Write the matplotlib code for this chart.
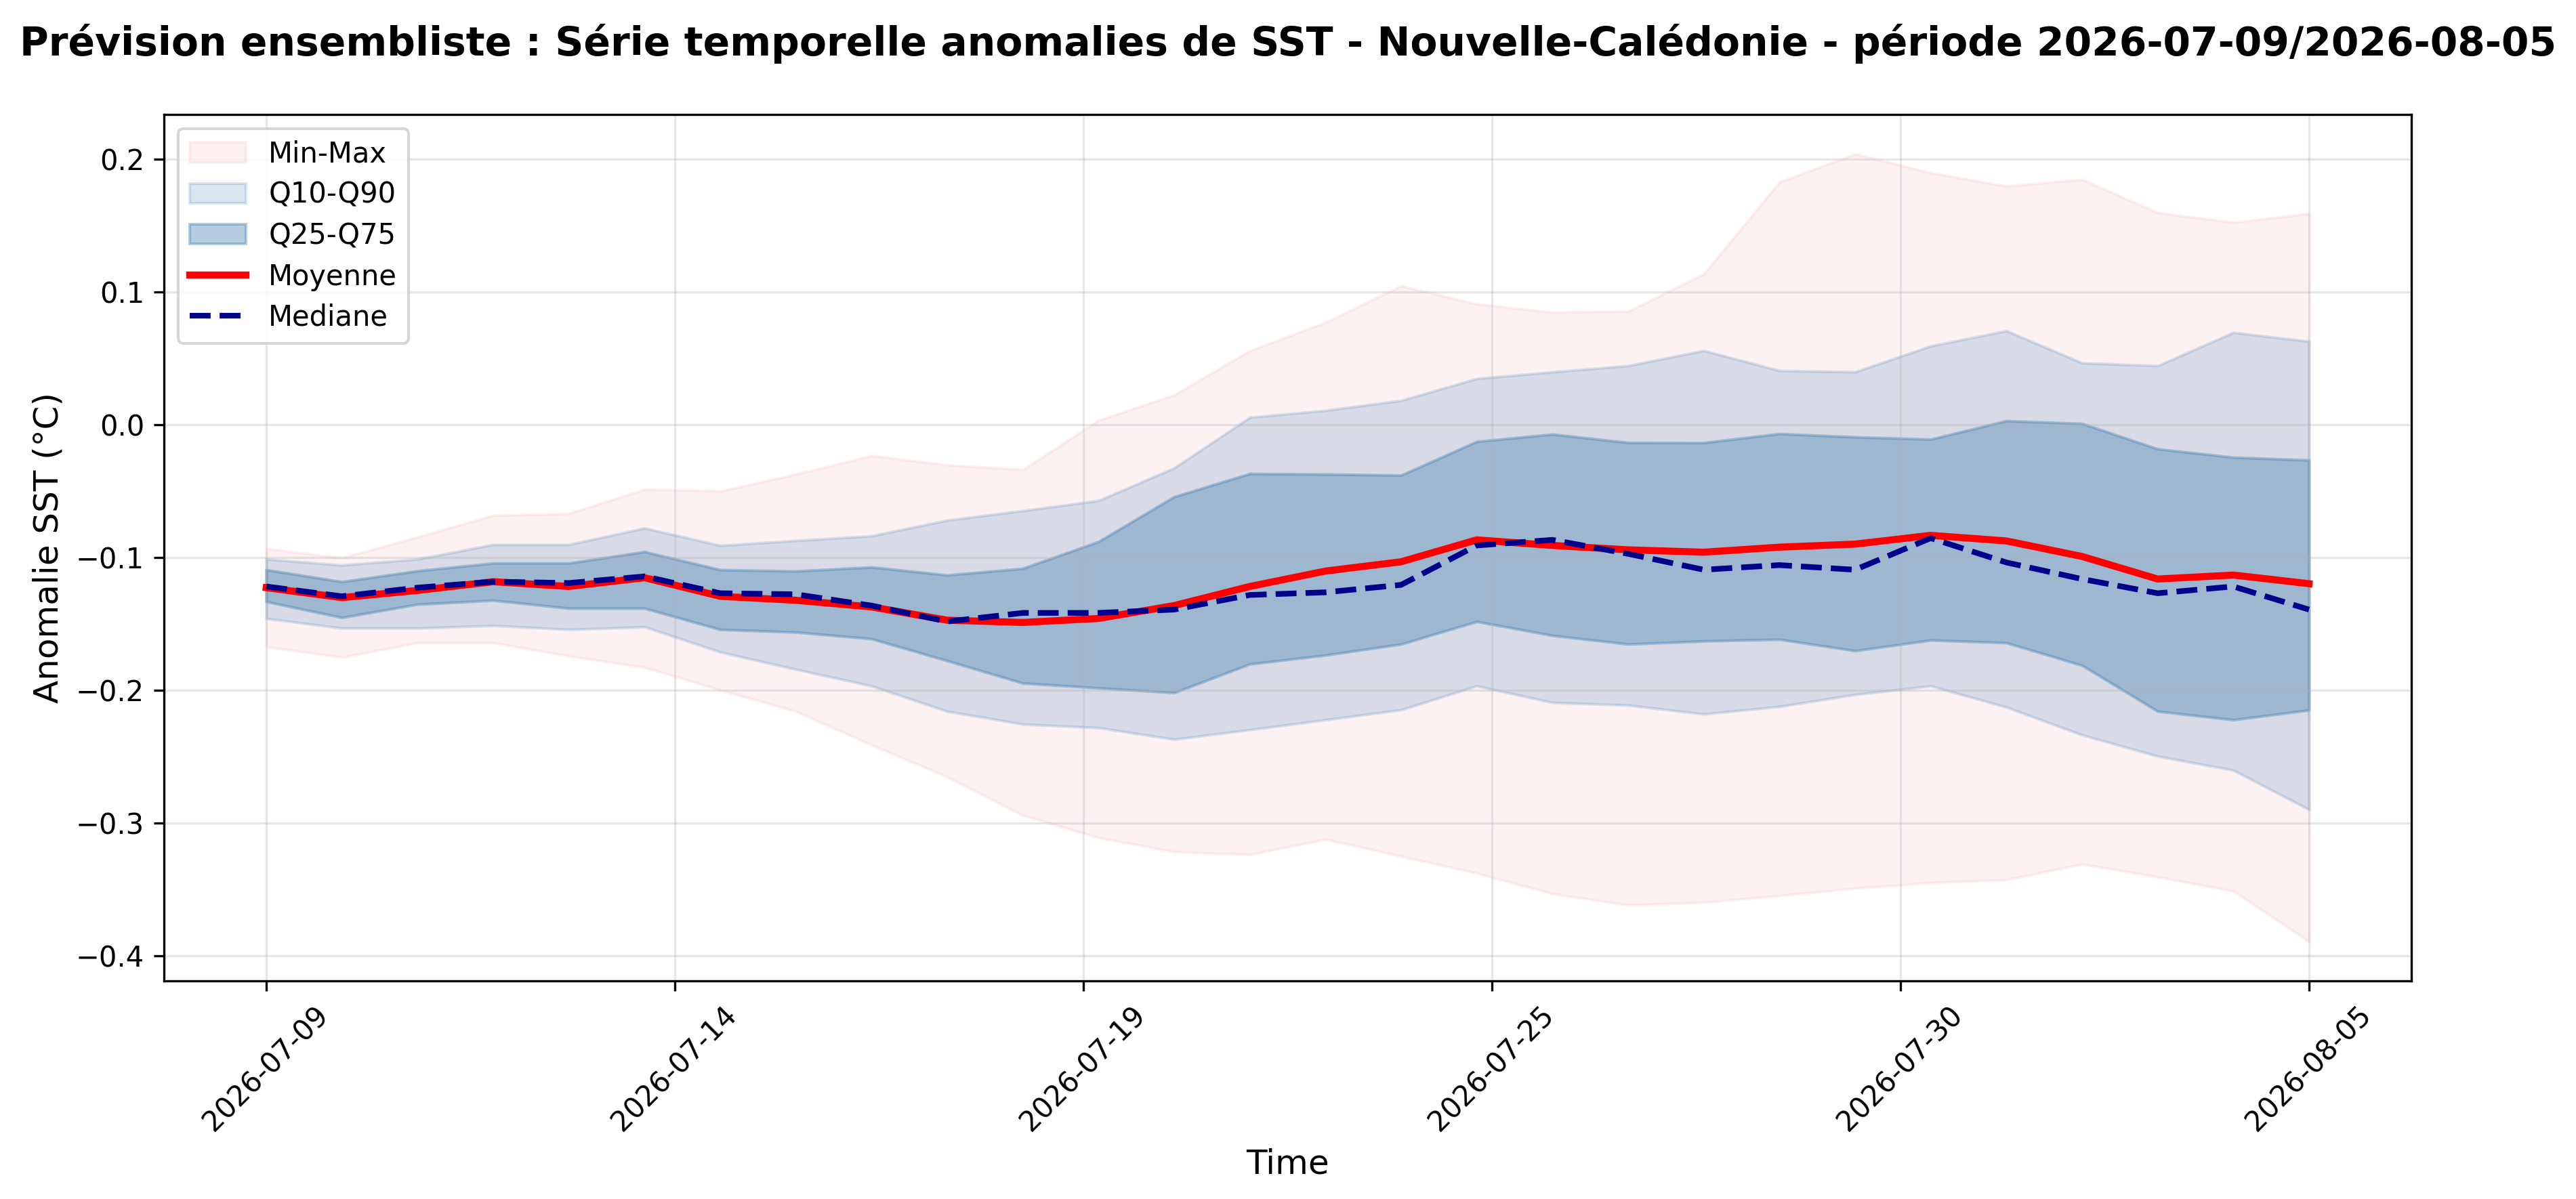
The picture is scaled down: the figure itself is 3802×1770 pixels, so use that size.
import numpy as np
import pandas as pd
import matplotlib
matplotlib.use("Agg")
import matplotlib.pyplot as plt

# dates of the forecast (daily)
dates = pd.date_range("2026-07-09", "2026-08-05", freq="D").strftime("%Y-%m-%d").tolist()

# ensemble statistics (anomalie SST, °C)
moyenne = [-0.1225, -0.130, -0.1246, -0.118, -0.1216, -0.115, -0.129, -0.132, -0.137, -0.147,
           -0.1487, -0.1457, -0.136, -0.1216, -0.110, -0.103, -0.0865, -0.0907, -0.094, -0.0958,
           -0.092, -0.0897, -0.0831, -0.0873, -0.099, -0.116, -0.113, -0.1195]
mediane = [-0.1216, -0.129, -0.1225, -0.118, -0.119, -0.114, -0.1267, -0.1275, -0.136, -0.148,
           -0.1415, -0.1415, -0.139, -0.128, -0.126, -0.1204, -0.0907, -0.0865, -0.097, -0.109,
           -0.1055, -0.109, -0.0852, -0.1035, -0.116, -0.1267, -0.1216, -0.139]
q25 = [-0.133, -0.145, -0.135, -0.132, -0.138, -0.138, -0.154, -0.156, -0.161, -0.1775,
       -0.1944, -0.198, -0.2016, -0.180, -0.1733, -0.165, -0.148, -0.1585, -0.165, -0.1627,
       -0.1614, -0.170, -0.162, -0.164, -0.181, -0.2156, -0.222, -0.2147]
q75 = [-0.109, -0.118, -0.1098, -0.104, -0.104, -0.0954, -0.109, -0.110, -0.107, -0.113,
       -0.108, -0.0878, -0.054, -0.0366, -0.037, -0.0378, -0.0124, -0.0069, -0.0132, -0.0133,
       -0.0065, -0.009, -0.0107, 0.0032, 0.0011, -0.018, -0.0243, -0.0264]
q10 = [-0.1457, -0.153, -0.153, -0.151, -0.154, -0.152, -0.171, -0.184, -0.1965, -0.2156,
       -0.2253, -0.228, -0.2367, -0.2295, -0.222, -0.2145, -0.1965, -0.209, -0.211, -0.2177,
       -0.212, -0.203, -0.1965, -0.2125, -0.2334, -0.2494, -0.26, -0.2896]
q90 = [-0.101, -0.1055, -0.101, -0.090, -0.090, -0.0776, -0.0907, -0.087, -0.0835, -0.0717,
       -0.0645, -0.0569, -0.0323, 0.0058, 0.011, 0.0185, 0.035, 0.040, 0.0447, 0.0561,
       0.041, 0.040, 0.0595, 0.071, 0.0468, 0.0447, 0.0697, 0.063]
vmin = [-0.167, -0.175, -0.164, -0.164, -0.174, -0.1825, -0.1995, -0.2156, -0.241, -0.265,
        -0.2939, -0.3108, -0.3214, -0.3235, -0.312, -0.3248, -0.3375, -0.353, -0.3616, -0.3595,
        -0.3544, -0.3489, -0.3447, -0.3425, -0.3307, -0.3404, -0.351, -0.389]
vmax = [-0.093, -0.100, -0.0844, -0.068, -0.0666, -0.0484, -0.0497, -0.037, -0.023, -0.030,
        -0.0336, 0.0036, 0.0227, 0.056, 0.0773, 0.1048, 0.0912, 0.0849, 0.0857, 0.1137,
        0.183, 0.2042, 0.19, 0.180, 0.185, 0.160, 0.1526, 0.1594]

x = np.arange(len(dates))

fig = plt.figure(figsize=(3802 / 300, 1770 / 300), dpi=300)
ax = fig.add_axes([0.0637, 0.1819, 0.8723, 0.7226])

ax.fill_between(x, vmin, vmax, color="lightcoral", alpha=0.1, label="Min-Max")
ax.fill_between(x, q10, q90, color="steelblue", alpha=0.2, label="Q10-Q90")
ax.fill_between(x, q25, q75, color="steelblue", alpha=0.4, label="Q25-Q75")
ax.plot(x, moyenne, color="red", linewidth=2.5, label="Moyenne")
ax.plot(x, mediane, color="darkblue", linewidth=2, linestyle="--", label="Mediane")

# 6 ticks evenly spaced, labels from the date list
ticks = np.linspace(0, len(dates) - 1, 6)
ax.set_xticks(ticks)
ax.set_xticklabels([dates[int(t)] for t in ticks], rotation=45)

ax.set_xlabel("Time", fontsize=12)
ax.set_ylabel("Anomalie SST (°C)", fontsize=12)
ax.grid(True, alpha=0.3)
ax.legend(loc="upper left", fontsize=10, labelspacing=0.44)

fig.suptitle("Prévision ensembliste : Série temporelle anomalies de SST - Nouvelle-Calédonie - "
             "période 2026-07-09/2026-08-05", fontsize=14, fontweight="bold", y=0.98)

fig.savefig("out.png", dpi=300)
